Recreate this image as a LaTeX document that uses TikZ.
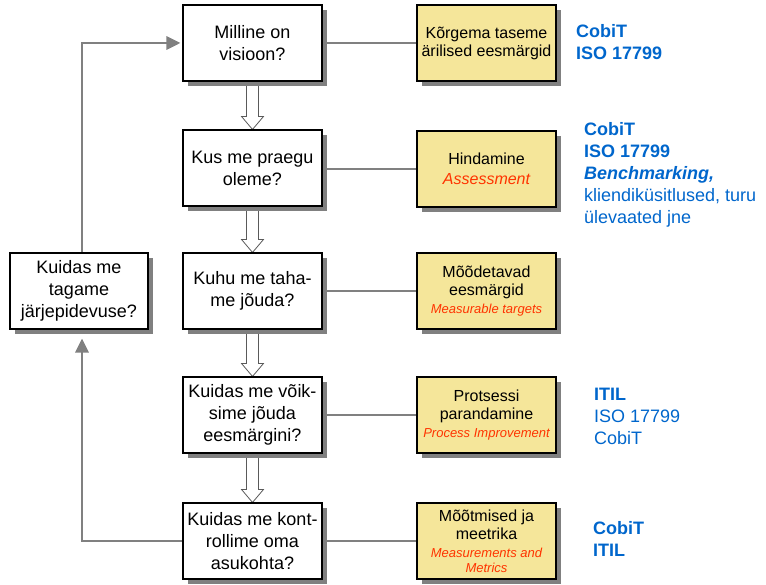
\documentclass[tikz,border=0pt]{standalone}
\usepackage{fontspec}
\setmainfont{Liberation Sans}
\usetikzlibrary{shadows,arrows.meta,calc,backgrounds}

\definecolor{boxyellow}{HTML}{F5E69A}
\definecolor{linkgray}{HTML}{808080}
\definecolor{refblue}{HTML}{0066CC}
\definecolor{engred}{HTML}{FF3300}
\definecolor{arrowedge}{HTML}{5A5A5A}

% English gloss under the Estonian label
\newcommand\engterm[1]{{\fontsize{13}{15}\selectfont\itshape\color{engred}#1}}

\tikzset{
  qbox/.style={draw=black, line width=1.1pt, fill=white,
    minimum width=139pt, minimum height=76pt, inner sep=2pt,
    align=center, font=\fontsize{18}{22}\selectfont,
    drop shadow={shadow xshift=5pt, shadow yshift=-5pt, fill=linkgray, opacity=1}},
  ybox/.style={qbox, fill=boxyellow, font=\fontsize{16}{18}\selectfont},
  reflist/.style={anchor=west, align=left, inner sep=0pt, text=refblue,
    font=\fontsize{18}{22}\selectfont},
  link/.style={draw=linkgray, line width=2.4pt},
  feedback/.style={draw=linkgray, line width=2.8pt,
    -{Triangle[length=14pt,width=13pt]}},
  % hollow block arrow between two stacked boxes
  flowarrow/.style={draw=arrowedge, fill=white, line width=0.8pt,
    to path={let \p1=(\tikztostart), \p2=(\tikztotarget) in
      (\x1-6pt,\y1) -- (\x1-6pt,\y2+13pt) -- (\x1-11pt,\y2+13pt) -- (\x1,\y2)
      -- (\x1+11pt,\y2+13pt) -- (\x1+6pt,\y2+13pt) -- (\x1+6pt,\y1) -- cycle}}
}

\begin{document}
\begin{tikzpicture}[x=1pt, y=-1pt]
\useasboundingbox (0,0) rectangle (766,585);

% question boxes
\node[qbox] (q1) at (252.5,43)  {Milline on\\visioon?};
\node[qbox] (q2) at (252.5,168) {Kus me praegu\\oleme?};
\node[qbox] (q3) at (252.5,291) {Kuhu me taha-\\me jõuda?};
\node[qbox] (q4) at (252.5,415) {Kuidas me võik-\\sime jõuda\\eesmärgini?};
\node[qbox] (q5) at (252.5,541) {Kuidas me kont-\\rollime oma\\asukohta?};
\node[qbox, minimum width=138pt] (keep) at (79,291) {Kuidas me\\tagame\\järjepidevuse?};

% activity boxes
\node[ybox] (y1) at (486.5,43)  {Kõrgema taseme\\ärilised eesmärgid};
\node[ybox] (y2) at (486.5,169) {Hindamine\\[2pt]{\itshape\color{engred}Assessment}};
\node[ybox] (y3) at (486.5,291) {Mõõdetavad\\eesmärgid\\\engterm{Measurable targets}};
\node[ybox] (y4) at (486.5,415) {Protsessi\\parandamine\\\engterm{Process Improvement}};
\node[ybox] (y5) at (486.5,541) {Mõõtmised ja\\meetrika\\\engterm{Measurements and}\\[-3pt]\engterm{Metrics}};

% reference frameworks
\node[reflist] (r1) at (576,42.5) {\textbf{CobiT}\\\textbf{ISO 17799}};
\node[reflist] (r2) at (584,174.5) {\textbf{CobiT}\\\textbf{ISO 17799}\\\textbf{\itshape Benchmarking,}\\kliendiküsitlused, turu\\ülevaated jne};
\node[reflist] (r4) at (594,416) {\textbf{ITIL}\\ISO 17799\\CobiT};
\node[reflist] (r5) at (593,538.5) {\textbf{CobiT}\\\textbf{ITIL}};

\begin{scope}[on background layer]
  \draw[flowarrow] (q1.south) to (q2.north);
  \draw[flowarrow] (q2.south) to (q3.north);
  \draw[flowarrow] (q3.south) to (q4.north);
  \draw[flowarrow] (q4.south) to (q5.north);

  \draw[link] (q1) -- (y1);
  \draw[link] (q2.east |- y2) -- (y2);
  \draw[link] (q3) -- (y3);
  \draw[link] (q4) -- (y4);
  \draw[link] (q5) -- (y5);

  \draw[feedback, shorten >=2pt] ([xshift=3pt]keep.north) |- (q1.west);
  \draw[feedback, shorten >=9pt] (q5.west) -| ([xshift=3pt]keep.south);
\end{scope}
\end{tikzpicture}
\end{document}
